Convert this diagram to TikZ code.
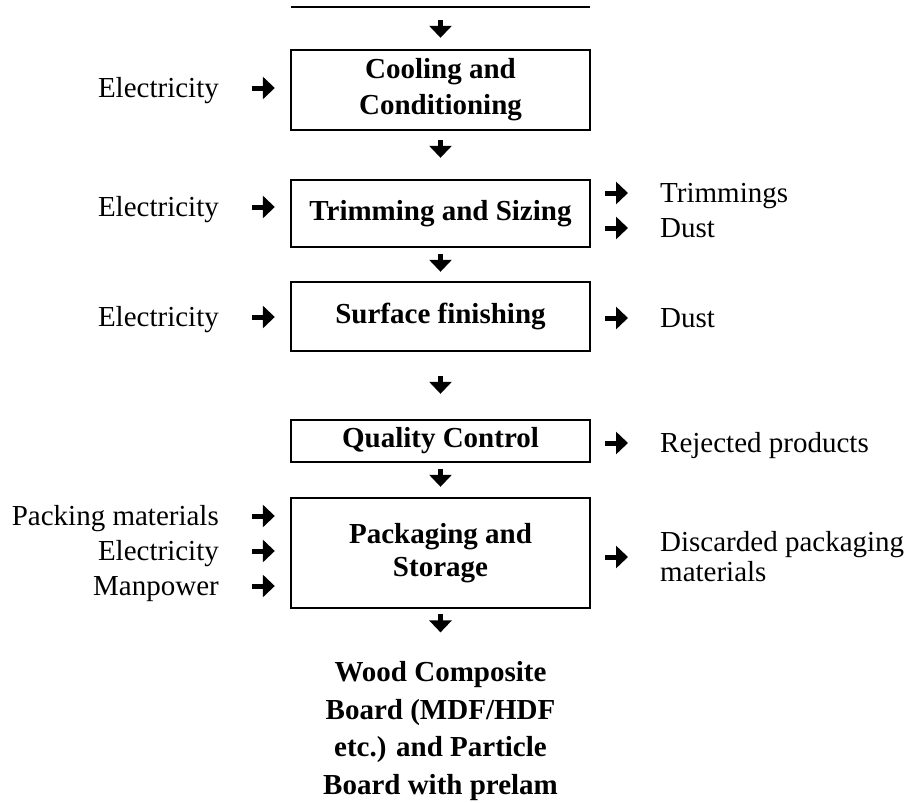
\documentclass[tikz,border=0pt]{standalone}
\usepackage{fontspec}
\setmainfont{Liberation Serif}
\usetikzlibrary{arrows.meta}
\tikzset{
  procbox/.style={rectangle, draw, line width=2.4pt, minimum width=299pt, align=center, font=\fontsize{29}{36}\selectfont\bfseries},
  sidelabel/.style={inner sep=0pt, text height=19pt, text depth=0pt, font=\fontsize{29}{36}\selectfont},
  flow/.style={line width=5pt, -{Triangle[width=22pt,length=12pt]}},
}
\begin{document}
\begin{tikzpicture}[x=1pt, y=-1pt]
    \useasboundingbox (0,0) rectangle (913,803);
    \coordinate (prevl) at (291,7);
    \coordinate (prevr) at (590,7);
    \coordinate (prev) at (440.5,7);
    \draw[line width=2pt] (prevl) -- (prevr);

    \node (cool) [procbox, minimum height=80pt] at (440.5,90) {Cooling and\\Conditioning};
    \node (trim) [procbox, minimum height=67pt] at (440.5,213.5) {Trimming and Sizing};
    \node (surf) [procbox, minimum height=69pt] at (440.5,316.5) {Surface finishing};
    \node (qc) [procbox, minimum height=42pt] at (440.5,441) {Quality Control};
    \node (pack) [procbox, minimum height=110pt, font=\fontsize{29}{33}\selectfont\bfseries] at (440.5,553) {Packaging and\\Storage};
    \node (product) [inner sep=0pt, align=center, font=\fontsize{29}{37.5}\selectfont\bfseries] at (440.5,731) {Wood Composite\\Board (MDF/HDF\\etc.) and Particle\\Board with prelam};

    \draw[flow, shorten <=13pt, shorten >=11pt] (prev) -- (cool);
    \draw[flow, shorten <=9pt, shorten >=21pt] (cool) -- (trim);
    \draw[flow, shorten <=6pt, shorten >=9pt] (trim) -- (surf);
    \draw[flow, shorten <=24pt, shorten >=25pt] (surf) -- (qc);
    \draw[flow, shorten <=6pt, shorten >=10pt] (qc) -- (pack);
    \draw[flow, shorten <=5pt, shorten >=29pt] (pack) -- (product);

    \node (elec1) [sidelabel, anchor=east] at (219,88) {Electricity};
    \node (elec2) [sidelabel, anchor=east] at (219,207) {Electricity};
    \node (elec3) [sidelabel, anchor=east] at (219,317) {Electricity};
    \node (pin1) [sidelabel, anchor=east] at (219,516) {Packing materials};
    \node (pin2) [sidelabel, anchor=east] at (219,551) {Electricity};
    \node (pin3) [sidelabel, anchor=east] at (219,586) {Manpower};

    \draw[flow, shorten <=33pt, shorten >=15pt] (elec1) -- (elec1 -| cool.west);
    \draw[flow, shorten <=33pt, shorten >=15pt] (elec2) -- (elec2 -| trim.west);
    \draw[flow, shorten <=33pt, shorten >=15pt] (elec3) -- (elec3 -| surf.west);
    \draw[flow, shorten <=33pt, shorten >=15pt] (pin1) -- (pin1 -| pack.west);
    \draw[flow, shorten <=33pt, shorten >=15pt] (pin2) -- (pin2 -| pack.west);
    \draw[flow, shorten <=33pt, shorten >=15pt] (pin3) -- (pin3 -| pack.west);

    \node (trimmings) [sidelabel, anchor=west] at (660,193) {Trimmings};
    \node (dust1) [sidelabel, anchor=west] at (660,228) {Dust};
    \node (dust2) [sidelabel, anchor=west] at (660,318) {Dust};
    \node (reject) [sidelabel, anchor=west] at (660,443) {Rejected products};
    \node (discard) [anchor=west, inner sep=0pt, align=left, font=\fontsize{29}{30}\selectfont] at (660,557) {Discarded packaging\\materials};

    \draw[flow, shorten <=14pt, shorten >=32pt] (trimmings -| trim.east) -- (trimmings);
    \draw[flow, shorten <=14pt, shorten >=32pt] (dust1 -| trim.east) -- (dust1);
    \draw[flow, shorten <=14pt, shorten >=32pt] (dust2 -| surf.east) -- (dust2);
    \draw[flow, shorten <=14pt, shorten >=32pt] (reject -| qc.east) -- (reject);
    \draw[flow, shorten <=14pt, shorten >=32pt] (discard -| pack.east) -- (discard);
\end{tikzpicture}
\end{document}
